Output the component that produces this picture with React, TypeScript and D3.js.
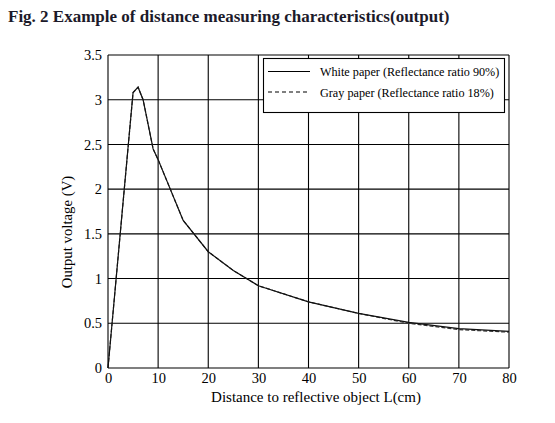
import { useEffect, useRef } from "react";
import * as d3 from "d3";

// distance (cm) and output voltage (V)
const whiteX = [0, 5, 6, 7, 9, 10, 15, 20, 25, 30, 40, 50, 60, 70, 80];
const whiteY = [0, 3.08, 3.14, 3.0, 2.45, 2.33, 1.65, 1.3, 1.09, 0.92, 0.74, 0.61, 0.51, 0.44, 0.41];
const grayX = [0, 5, 6, 7, 9, 10, 15, 20, 25, 30, 40, 50, 60, 70, 80];
const grayY = [0, 3.08, 3.14, 3.0, 2.45, 2.33, 1.65, 1.3, 1.09, 0.92, 0.74, 0.61, 0.5, 0.43, 0.4];

const xTicks = [0, 10, 20, 30, 40, 50, 60, 70, 80];
const yTicks = [0, 0.5, 1, 1.5, 2, 2.5, 3, 3.5];
const legendLabels = ["White paper (Reflectance ratio 90%)", "Gray paper (Reflectance ratio 18%)"];

const App = () => {
  const svgRef = useRef<SVGSVGElement | null>(null);

  useEffect(() => {
    if (!svgRef.current) return;
    const svg = d3.select(svgRef.current);
    svg.selectAll("*").remove();

    const font = "'Liberation Serif', 'Times New Roman', serif";
    const margin = { top: 55, right: 46, bottom: 55, left: 108 };
    const width = 555;
    const height = 423;

    const x = d3.scaleLinear().domain([0, 80]).range([margin.left, width - margin.right]);
    const y = d3.scaleLinear().domain([0, 3.5]).range([height - margin.bottom, margin.top]);

    svg.append("text")
      .attr("x", 8)
      .attr("y", 22)
      .attr("font-family", font)
      .attr("font-weight", "bold")
      .attr("font-size", 17)
      .attr("fill", "#1c1a2a")
      .text("Fig. 2 Example of distance measuring characteristics(output)");

    // grid
    const grid = svg.append("g").attr("stroke", "#000").attr("stroke-width", 1.1);
    grid.selectAll(".vx")
      .data(xTicks)
      .enter().append("line")
      .attr("x1", d => x(d)).attr("x2", d => x(d))
      .attr("y1", y(0)).attr("y2", y(3.5));
    grid.selectAll(".hy")
      .data(yTicks)
      .enter().append("line")
      .attr("x1", x(0)).attr("x2", x(80))
      .attr("y1", d => y(d)).attr("y2", d => y(d));

    // axes (labels only)
    const xAxis = svg.append("g")
      .attr("transform", `translate(0,${y(0)})`)
      .call(d3.axisBottom(x).tickValues(xTicks).tickSize(0).tickPadding(5).tickFormat(d3.format("d")));
    xAxis.select(".domain").remove();
    xAxis.selectAll("text").attr("font-family", font).attr("font-size", 14.5).attr("fill", "#000");

    const yAxis = svg.append("g")
      .attr("transform", `translate(${x(0)},0)`)
      .call(d3.axisLeft(y).tickValues(yTicks).tickSize(0).tickPadding(6).tickFormat(d => String(d)));
    yAxis.select(".domain").remove();
    yAxis.selectAll("text").attr("font-family", font).attr("font-size", 14.5).attr("fill", "#000");

    svg.append("text")
      .attr("x", 316)
      .attr("y", 402)
      .attr("text-anchor", "middle")
      .attr("font-family", font)
      .attr("font-size", 15)
      .text("Distance to reflective object L(cm)");

    svg.append("text")
      .attr("transform", `translate(72,232) rotate(-90)`)
      .attr("text-anchor", "middle")
      .attr("font-family", font)
      .attr("font-size", 14.8)
      .text("Output voltage (V)");

    const line = d3.line<[number, number]>()
      .x(d => x(d[0]))
      .y(d => y(d[1]));

    svg.append("path")
      .datum(grayX.map((v, i) => [v, grayY[i]] as [number, number]))
      .attr("d", line)
      .attr("fill", "none")
      .attr("stroke", "#333")
      .attr("stroke-width", 1.2)
      .attr("stroke-dasharray", "4,2");

    svg.append("path")
      .datum(whiteX.map((v, i) => [v, whiteY[i]] as [number, number]))
      .attr("d", line)
      .attr("fill", "none")
      .attr("stroke", "#111")
      .attr("stroke-width", 1.2);

    // legend
    const lg = svg.append("g");
    lg.append("rect")
      .attr("x", 263.5).attr("y", 58.5)
      .attr("width", 241).attr("height", 54)
      .attr("fill", "#fff").attr("stroke", "#000").attr("stroke-width", 1.1);
    legendLabels.forEach((label, i) => {
      const ly = 71.5 + i * 20.5;
      lg.append("line")
        .attr("x1", 268).attr("x2", 310)
        .attr("y1", ly).attr("y2", ly)
        .attr("stroke", "#000").attr("stroke-width", 1.1)
        .attr("stroke-dasharray", i === 1 ? "4,3" : null);
      lg.append("text")
        .attr("x", 320).attr("y", ly + 4.5)
        .attr("font-family", font).attr("font-size", 12.2)
        .text(label);
    });
  }, []);

  return (
    <svg
      ref={svgRef}
      width={555}
      height={423}
      style={{ position: "absolute", left: 0, top: 0, background: "#fff" }}
    />
  );
};

export default App;
